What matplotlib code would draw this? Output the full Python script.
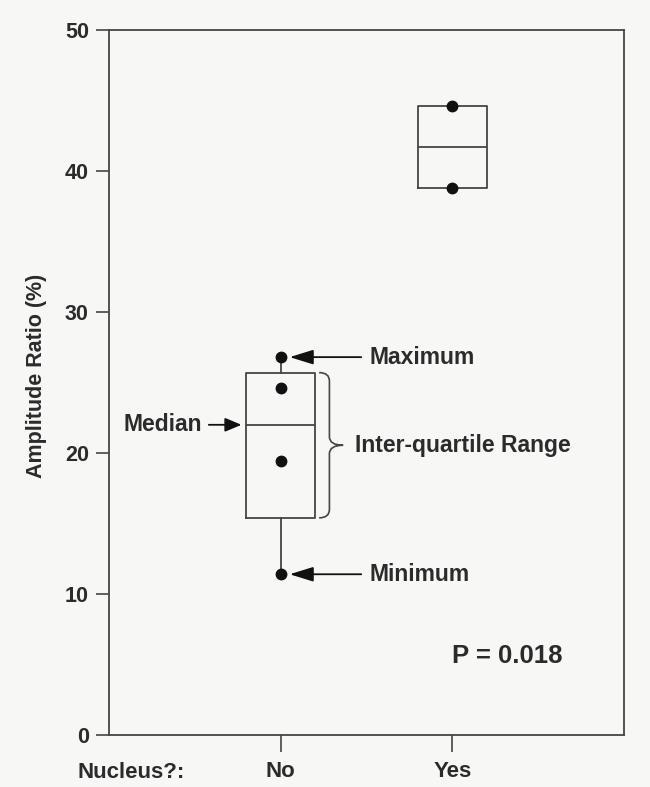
import numpy as np
import matplotlib
matplotlib.use('Agg')
import matplotlib.pyplot as plt
from matplotlib.path import Path
from matplotlib.patches import PathPatch

# amplitude ratio (%) per specimen, grouped by presence of a nucleus
groups = ['No', 'Yes']
ratio_no = [11.4, 19.4, 24.6, 26.8]
ratio_yes = [38.8, 44.6]
p_value = 0.018

plt.rcParams['font.family'] = ['Liberation Sans', 'DejaVu Sans']
plt.rcParams['font.weight'] = 'bold'
plt.rcParams['axes.labelweight'] = 'bold'

ink = '#2b2b2b'
line = '#454545'
paper = '#f7f7f6'


def tukey_stats(vals, label):
    # box from Tukey hinges, whiskers to the extremes
    v = np.sort(np.asarray(vals, dtype=float))
    n = len(v)
    half = (n + 1) // 2
    return dict(label=label, med=np.median(v),
                q1=np.median(v[:half]), q3=np.median(v[n - half:]),
                whislo=v.min(), whishi=v.max(), fliers=[])


stats = [tukey_stats(ratio_no, groups[0]), tukey_stats(ratio_yes, groups[1])]
pos = [1, 2]
bw = 0.40

fig = plt.figure(figsize=(6.5, 7.87), dpi=100, facecolor=paper)
ax = fig.add_axes([109 / 650, 52 / 787, 515 / 650, 705 / 787], facecolor=paper)

lp = dict(color=line, linewidth=1.3)
ax.bxp(stats, positions=pos, widths=bw, showcaps=False, showfliers=False,
       boxprops=lp, whiskerprops=lp, medianprops=lp)

for x, vals in zip(pos, [ratio_no, ratio_yes]):
    ax.plot([x] * len(vals), vals, 'o', color='#111111', markersize=7.5, zorder=4)

ax.set_xlim(0, 3)
ax.set_ylim(0, 50)
ax.set_yticks(np.arange(0, 51, 10))
ax.set_xticks(pos)
ax.set_xticklabels(groups)
ax.tick_params(axis='y', length=9.5, width=1.2, color=line, pad=5,
               labelsize=15.5, labelcolor=ink)
ax.tick_params(axis='x', length=12, width=1.2, color=line, pad=7,
               labelsize=16, labelcolor=ink)
for s in ax.spines.values():
    s.set_color(line)
    s.set_linewidth(1.3)

ax.set_ylabel('Amplitude Ratio (%)', fontsize=15.5, color=ink)
ax.yaxis.set_label_coords(-0.12, 0.51)

ax.annotate('Nucleus?:', xy=(0, 0), xycoords='axes fraction',
            xytext=(-23, -19.5), textcoords='offset points',
            ha='left', va='top', fontsize=16, color=ink)

# explanatory labels on the "No" box
s0 = stats[0]
arrow = dict(arrowstyle='-|>,head_length=1.45,head_width=0.45', color='#111111',
             linewidth=1.3, shrinkA=0, mutation_scale=10)
for key, name in [('whishi', 'Maximum'), ('whislo', 'Minimum')]:
    ax.annotate('', xy=(pos[0], s0[key]), xytext=(58, 0),
                textcoords='offset points', arrowprops=dict(arrow, shrinkB=6.5))
    ax.annotate(name, xy=(pos[0], s0[key]), xytext=(64, 0),
                textcoords='offset points', ha='left', va='center',
                fontsize=16.5, color=ink)

ax.annotate('', xy=(pos[0] - bw / 2, s0['med']), xytext=(-27, 0),
            textcoords='offset points',
            arrowprops=dict(arrow, arrowstyle='-|>,head_length=1.0,head_width=0.42',
                            shrinkB=3.5))
ax.annotate('Median', xy=(pos[0] - bw / 2, s0['med']), xytext=(-32, 0),
            textcoords='offset points', ha='right', va='center',
            fontsize=16.5, color=ink)

# curly brace spanning the inter-quartile range
top, bot = s0['q3'], s0['q1']
mid = (top + bot) / 2
r = 0.6
xa = pos[0] + bw / 2 + 0.024
xb = xa + 0.06
xc = xa + 0.14
verts = [(xa, top), (xb, top), (xb, top - r), (xb, mid + r), (xb, mid), (xc, mid),
         (xb, mid), (xb, mid - r), (xb, bot + r), (xb, bot), (xa, bot)]
codes = [Path.MOVETO, Path.CURVE3, Path.CURVE3, Path.LINETO, Path.CURVE3, Path.CURVE3,
         Path.CURVE3, Path.CURVE3, Path.LINETO, Path.CURVE3, Path.CURVE3]
ax.add_patch(PathPatch(Path(verts, codes), facecolor='none', edgecolor=line,
                       linewidth=1.2))
ax.text(xc + 0.07, mid, 'Inter-quartile Range', ha='left', va='center',
        fontsize=16.5, color=ink)

ax.text(2.0, 5.6, f'P = {p_value:.3f}', ha='left', va='center',
        fontsize=18.5, color=ink)

fig.savefig('out.png', dpi=100, facecolor=paper)
